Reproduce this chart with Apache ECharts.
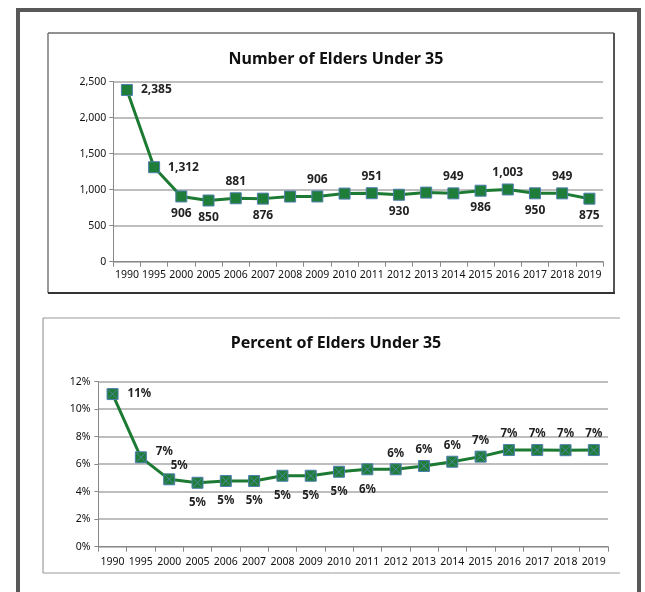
<!DOCTYPE html>
<html>
<head>
<meta charset="utf-8">
<script src="https://cdn.jsdelivr.net/npm/echarts@6/dist/echarts.min.js"></script>
<style>
html,body{margin:0;padding:0;background:#fff;}
#c{width:645px;height:592px;}
</style>
</head>
<body>
<div id="c"></div>
<script>
const years = ['1990','1995','2000','2005','2006','2007','2008','2009','2010','2011','2012','2013','2014','2015','2016','2017','2018','2019'];
const elderCounts = [2385,1312,906,850,881,876,905,906,946,951,930,960,949,986,1003,950,949,875];
const elderPercents = [11.1,6.5,4.9,4.65,4.78,4.78,5.16,5.16,5.45,5.63,5.63,5.87,6.18,6.55,7.03,7.03,7.02,7.03];
const countTicks = [0,500,1000,1500,2000,2500];
const percentTicks = [0,2,4,6,8,10,12];

// label placement (style config)
const countLabelPos = ['right','right','bottom','bottom','top','bottom',null,'top',null,'top','bottom',null,'top','bottom','top','bottom','top','bottom'];
const percentLabelPos = ['right','right','top','bottom','bottom','bottom','bottom','bottom','bottom','bottom','top','top','top','top','top','top','top','top'];

const FONT = 'Noto Sans';
const LINE_GREEN = '#1c7a33';
const MARK_GREEN = '#1f7d3a';
const MARK_BORDER = '#4f7fae';

function makeData(vals, pos, dist, special) {
  return vals.map((v, i) => {
    const p = pos[i];
    const d = { value: v };
    if (!p) { d.label = { show: false }; }
    else {
      d.label = { show: true, position: p, distance: dist[p] };
      if (special && special[i]) Object.assign(d.label, special[i]);
    }
    return d;
  });
}

const chart = echarts.init(document.getElementById('c'), null, { renderer: 'canvas' });

const axisLabelStyle = { color: '#111', fontFamily: FONT, fontSize: 10.5 };

const option = {
  animation: false,
  backgroundColor: '#fff',
  graphic: [
    { type: 'rect', shape: { x: 18, y: 10, width: 621, height: 620 }, style: { fill: 'none', stroke: '#585858', lineWidth: 4 }, z: 1 },
    { type: 'line', shape: { x1: 48, y1: 33, x2: 614, y2: 33 }, style: { stroke: '#222', lineWidth: 1 } },
    { type: 'line', shape: { x1: 48, y1: 33, x2: 48, y2: 293 }, style: { stroke: '#777', lineWidth: 1.5 } },
    { type: 'line', shape: { x1: 614, y1: 33, x2: 614, y2: 293 }, style: { stroke: '#555', lineWidth: 2 } },
    { type: 'line', shape: { x1: 48, y1: 293, x2: 615, y2: 293 }, style: { stroke: '#333', lineWidth: 2 } },
    { type: 'line', shape: { x1: 43, y1: 318, x2: 620, y2: 318 }, style: { stroke: '#999', lineWidth: 1 } },
    { type: 'line', shape: { x1: 43, y1: 318, x2: 43, y2: 573 }, style: { stroke: '#888', lineWidth: 1 } },
    { type: 'line', shape: { x1: 43, y1: 573, x2: 620, y2: 573 }, style: { stroke: '#999', lineWidth: 1 } }
  ],
  title: [
    { text: 'Number of Elders Under 35', left: 331, top: 46, textAlign: 'center',
      textStyle: { fontFamily: FONT, fontSize: 16, fontWeight: 'bold', color: '#111' } },
    { text: 'Percent of Elders Under 35', left: 331, top: 330, textAlign: 'center',
      textStyle: { fontFamily: FONT, fontSize: 16, fontWeight: 'bold', color: '#111' } }
  ],
  grid: [
    { left: 113.3, top: 81.7, width: 489.7, height: 180 },
    { left: 98.4, top: 381.7, width: 509.6, height: 165 }
  ],
  xAxis: [
    { type: 'category', gridIndex: 0, data: years, boundaryGap: true,
      axisLine: { lineStyle: { color: '#888', width: 1 } },
      axisTick: { show: true, length: 5, lineStyle: { color: '#888' } },
      axisLabel: Object.assign({ interval: 0, margin: 8 }, axisLabelStyle) },
    { type: 'category', gridIndex: 1, data: years, boundaryGap: true,
      axisLine: { lineStyle: { color: '#888', width: 1 } },
      axisTick: { show: true, length: 5, lineStyle: { color: '#888' } },
      axisLabel: Object.assign({ interval: 0, margin: 10 }, axisLabelStyle) }
  ],
  yAxis: [
    { type: 'value', gridIndex: 0, min: countTicks[0], max: countTicks[countTicks.length - 1], interval: 500,
      axisLine: { show: true, lineStyle: { color: '#888' } },
      axisTick: { show: true, length: 4, lineStyle: { color: '#888' } },
      splitLine: { lineStyle: { color: '#a8a8a8', width: 1.5 } },
      axisLabel: Object.assign({ margin: 7, formatter: v => v.toLocaleString('en-US') }, axisLabelStyle) },
    { type: 'value', gridIndex: 1, min: percentTicks[0], max: percentTicks[percentTicks.length - 1], interval: 2,
      axisLine: { show: true, lineStyle: { color: '#888' } },
      axisTick: { show: true, length: 4, lineStyle: { color: '#888' } },
      splitLine: { lineStyle: { color: '#a8a8a8', width: 1.5 } },
      axisLabel: Object.assign({ margin: 8, formatter: v => v + '%' }, axisLabelStyle) }
  ],
  series: [
    { type: 'line', xAxisIndex: 0, yAxisIndex: 0,
      data: makeData(elderCounts, countLabelPos, { right: 8, top: 5, bottom: 5 }),
      symbol: 'rect', symbolSize: 11,
      lineStyle: { color: LINE_GREEN, width: 3 },
      itemStyle: { color: MARK_GREEN, borderColor: MARK_BORDER, borderWidth: 1 },
      label: { fontFamily: FONT, fontSize: 12, fontWeight: 'bold', color: '#222',
        formatter: p => p.value.toLocaleString('en-US') } },
    { type: 'line', xAxisIndex: 1, yAxisIndex: 1,
      data: makeData(elderPercents, percentLabelPos, { right: 9, top: 4, bottom: 8 },
        { 1: { offset: [0, -6] }, 2: { offset: [10, 2] } }),
      symbol: 'rect', symbolSize: 11,
      lineStyle: { color: LINE_GREEN, width: 3 },
      itemStyle: { color: MARK_GREEN, borderColor: MARK_BORDER, borderWidth: 1 },
      label: { fontFamily: FONT, fontSize: 11.5, fontWeight: 'bold', color: '#222',
        formatter: p => Math.round(p.value) + '%' } },
    { type: 'scatter', xAxisIndex: 1, yAxisIndex: 1,
      data: elderPercents,
      symbol: 'path://M0,0L10,10M10,0L0,10', symbolSize: 9,
      itemStyle: { color: 'rgba(0,0,0,0)', borderColor: '#5b86b8', borderWidth: 1 },
      z: 5, silent: true }
  ]
};
chart.setOption(option);
</script>
</body>
</html>
